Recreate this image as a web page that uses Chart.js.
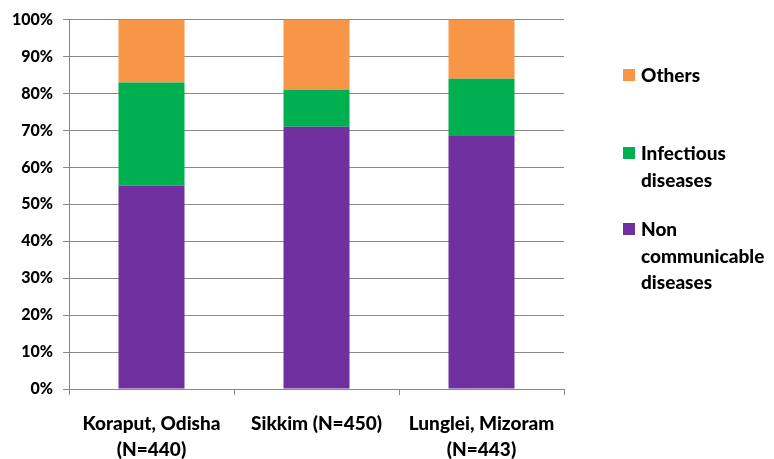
<!DOCTYPE html>
<html>
<head>
<meta charset="utf-8">
<script src="https://cdn.jsdelivr.net/npm/chart.js@4"></script>
<style>
  html, body { margin: 0; padding: 0; background: #fff; }
  #wrap { width: 774px; height: 459px; position: relative; }
</style>
</head>
<body>
<div id="wrap"><canvas id="c" width="774" height="459"></canvas></div>
<script>
// Share of deaths by cause group in each study site (%)
const categories = [
  ['Koraput, Odisha', '(N=440)'],
  'Sikkim (N=450)',
  ['Lunglei, Mizoram', '(N=443)']
];
const nonCommunicable = [55, 71, 68.5];
const infectious = [28, 10, 15.5];
const others = [17, 19, 16];

const seriesNames = {
  ncd: ['Non', 'communicable', 'diseases'],
  inf: ['Infectious', 'diseases'],
  oth: ['Others']
};
const colors = { ncd: '#7030A0', inf: '#00B050', oth: '#F79646' };

const FONT = 'Lato, "Liberation Sans", sans-serif';
const WEIGHT = '900';

// Legend drawn to the right of the plot, with wrapped labels
const sideLegend = {
  id: 'sideLegend',
  afterDraw(chart) {
    const ctx = chart.ctx;
    const items = [
      { lines: seriesNames.oth, color: colors.oth, y: 75 },
      { lines: seriesNames.inf, color: colors.inf, y: 153 },
      { lines: seriesNames.ncd, color: colors.ncd, y: 229 }
    ];
    ctx.save();
    ctx.font = WEIGHT + ' 19px ' + FONT;
    ctx.textBaseline = 'middle';
    items.forEach(it => {
      ctx.fillStyle = it.color;
      ctx.fillRect(623, it.y - 6, 12, 12);
      ctx.fillStyle = '#000';
      it.lines.forEach((t, i) => ctx.fillText(t, 641, it.y + 1 + i * 26.5));
    });
    ctx.restore();
  }
};

new Chart(document.getElementById('c'), {
  type: 'bar',
  data: {
    labels: categories,
    datasets: [
      { label: 'Non communicable diseases', data: nonCommunicable, backgroundColor: colors.ncd },
      { label: 'Infectious diseases', data: infectious, backgroundColor: colors.inf },
      { label: 'Others', data: others, backgroundColor: colors.oth }
    ]
  },
  options: {
    responsive: false,
    animation: false,
    layout: { padding: { top: 11, right: 210, left: 0, bottom: 0 } },
    datasets: { bar: { barPercentage: 0.4, categoryPercentage: 1.0, borderWidth: 0 } },
    plugins: { legend: { display: false }, tooltip: { enabled: false } },
    scales: {
      x: {
        stacked: true,
        afterFit: s => { s.height = 70; },
        grid: { drawOnChartArea: false, drawTicks: true, tickLength: 6, color: '#888' },
        border: { color: '#888', width: 1 },
        ticks: { color: '#000', font: { family: FONT, size: 19, weight: WEIGHT, lineHeight: 1.37 }, padding: 16, maxRotation: 0, autoSkip: false }
      },
      y: {
        stacked: true,
        min: 0, max: 100,
        afterFit: s => { s.width = 69; },
        grid: { color: '#888', tickLength: 6, lineWidth: 1 },
        border: { color: '#888', width: 1 },
        ticks: { stepSize: 10, color: '#000', padding: 10, font: { family: FONT, size: 16, weight: WEIGHT }, callback: v => v + '%' }
      }
    }
  },
  plugins: [sideLegend]
});
</script>
</body>
</html>
